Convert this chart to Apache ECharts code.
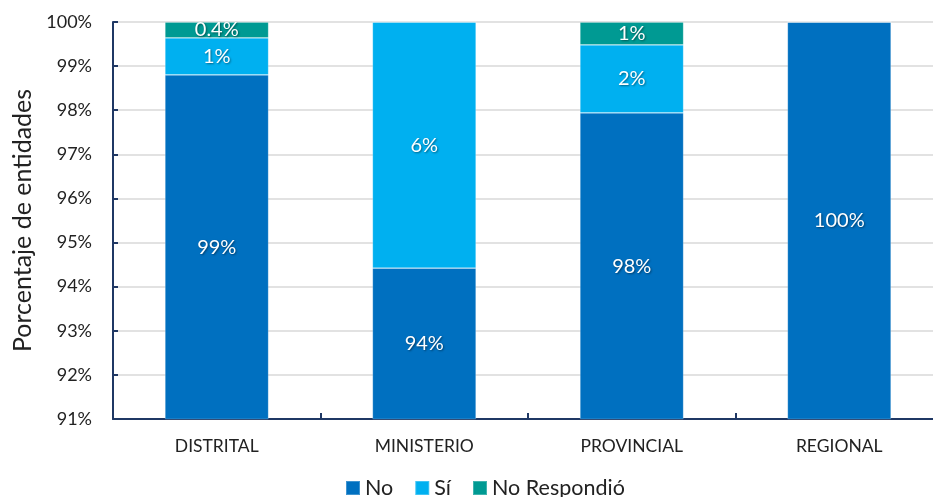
<!DOCTYPE html>
<html>
<head>
<meta charset="utf-8">
<script src="https://cdn.jsdelivr.net/npm/echarts@6/dist/echarts.min.js"></script>
<style>html,body{margin:0;padding:0;background:#fff;}#c{width:933px;height:497px;}</style>
</head>
<body>
<div id="c"></div>
<script>
const categories = ['DISTRITAL', 'MINISTERIO', 'PROVINCIAL', 'REGIONAL'];
const noValues = [98.80, 94.42, 97.94, 100];
const siValues = [0.84, 5.58, 1.54, 0];
const nrValues = [0.36, 0, 0.52, 0];
const yTicks = ['91%', '92%', '93%', '94%', '95%', '96%', '97%', '98%', '99%', '100%'];

const FONT = 'Lato, "Noto Sans", sans-serif';
const chart = echarts.init(document.getElementById('c'), null, {renderer: 'canvas'});

function fmt(p) {
  const v = p.value;
  if (!v) return '';
  return (v < 0.5 ? v.toFixed(1) : v.toFixed(0)) + '%';
}
const labelStyle = {
  show: true, position: 'inside', color: '#fff', fontFamily: FONT, fontSize: 20,
  textShadowColor: 'rgba(0,0,0,0.45)', textShadowBlur: 2, textShadowOffsetX: 1, textShadowOffsetY: 1,
  formatter: fmt
};
function mk(name, data, color) {
  return {
    name, type: 'bar', stack: 'total', data, barCategoryGap: '50%',
    itemStyle: {color, borderColor: 'rgba(255,255,255,0.25)', borderWidth: 0.8},
    label: labelStyle, emphasis: {disabled: true}
  };
}

chart.setOption({
  animation: false,
  textStyle: {fontFamily: FONT},
  grid: {left: 113, width: 830, top: 22, height: 397, containLabel: false, outerBoundsMode: 'none'},
  legend: {
    top: 472, left: 340, itemWidth: 14, itemHeight: 14, itemGap: 21, icon: 'rect',
    textStyle: {fontFamily: FONT, fontSize: 21.5, color: '#222'},
    data: ['No', 'Sí', 'No Respondió']
  },
  xAxis: {
    type: 'category', data: categories,
    axisLine: {lineStyle: {color: '#1F3864', width: 2}},
    axisTick: {show: true, inside: true, length: 6, lineStyle: {color: '#1F3864', width: 2}},
    axisLabel: {color: '#222', fontSize: 17.5, fontFamily: FONT, margin: 18}
  },
  yAxis: {
    type: 'value', min: 91, max: 100, interval: 1,
    name: 'Porcentaje de entidades', nameLocation: 'middle', nameGap: 78, nameRotate: 90,
    nameTextStyle: {fontFamily: FONT, fontSize: 25, color: '#222'},
    axisLine: {show: true, lineStyle: {color: '#1F3864', width: 2}},
    axisTick: {show: true, inside: true, length: 5, lineStyle: {color: '#1F3864', width: 2}},
    splitLine: {lineStyle: {color: '#D9D9D9', width: 1.5}},
    axisLabel: {
      color: '#222', fontSize: 18, fontFamily: FONT, margin: 21,
      formatter: (v) => yTicks[Math.round(v - 91)]
    }
  },
  series: [
    mk('No', noValues, '#0070C0'),
    mk('Sí', siValues, '#00B0F0'),
    mk('No Respondió', nrValues, '#009A93')
  ]
});
</script>
</body>
</html>
